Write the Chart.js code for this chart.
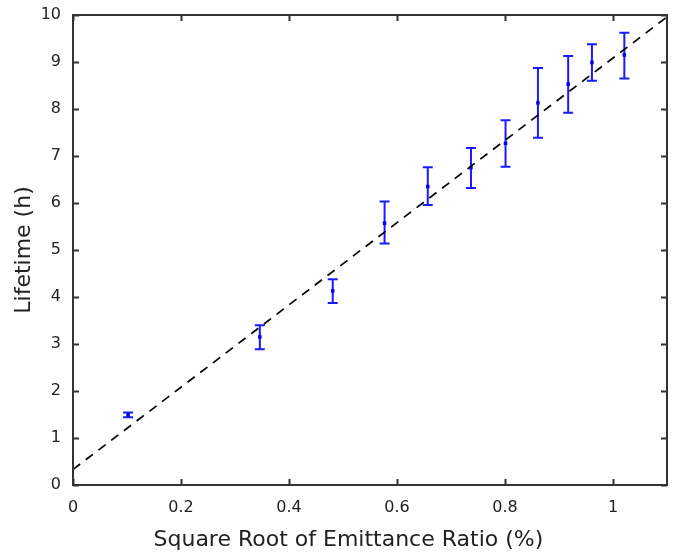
<!DOCTYPE html>
<html>
<head>
<meta charset="utf-8">
<script src="https://cdn.jsdelivr.net/npm/chart.js@4.4.1/dist/chart.umd.min.js"></script>
<style>
  html, body { margin: 0; padding: 0; background: #fff; }
  #wrap { width: 689px; height: 552px; }
</style>
</head>
<body>
<div id="wrap"><canvas id="lifetimeChart" width="689" height="552"></canvas></div>
<script>
const emitRatio = [0.102, 0.346, 0.481, 0.577, 0.657, 0.737, 0.801, 0.861, 0.917, 0.961, 1.021];
const lifetime  = [1.49, 3.15, 4.13, 5.57, 6.35, 6.75, 7.27, 8.13, 8.53, 8.99, 9.15];
const errLow    = [1.44, 2.89, 3.87, 5.14, 5.96, 6.32, 6.77, 7.39, 7.92, 8.60, 8.65];
const errHigh   = [1.54, 3.40, 4.38, 6.03, 6.76, 7.17, 7.76, 8.87, 9.13, 9.38, 9.62];

// linear fit line end points
const fitX = [0, 1.1];
const fitY = [0.33, 9.96];

const xTicks = [0, 0.2, 0.4, 0.6, 0.8, 1];
const yTicks = [0, 1, 2, 3, 4, 5, 6, 7, 8, 9, 10];

const xTitle = 'Square Root of Emittance Ratio (%)';
const yTitle = 'Lifetime (h)';

const axisFont = { family: 'DejaVu Sans', size: 16 };
const titleFont = { family: 'DejaVu Sans', size: 22 };

// error bars (under the markers) + box frame with inward ticks
const framePlugin = {
    id: 'frame',
    beforeDatasetsDraw(chart) {
        const ctx = chart.ctx;
        const xs = chart.scales.x, ys = chart.scales.y;
        ctx.save();
        ctx.strokeStyle = '#1a1aff';
        ctx.lineWidth = 2;
        for (let i = 0; i < emitRatio.length; i++) {
            const px = xs.getPixelForValue(emitRatio[i]);
            const lo = ys.getPixelForValue(errLow[i]);
            const hi = ys.getPixelForValue(errHigh[i]);
            ctx.beginPath();
            ctx.moveTo(px, lo); ctx.lineTo(px, hi);
            ctx.moveTo(px - 5, lo); ctx.lineTo(px + 5, lo);
            ctx.moveTo(px - 5, hi); ctx.lineTo(px + 5, hi);
            ctx.stroke();
        }
        ctx.restore();
    },
    afterDatasetsDraw(chart) {
        const ctx = chart.ctx;
        const xs = chart.scales.x, ys = chart.scales.y;
        const a = chart.chartArea;
        ctx.save();
        ctx.strokeStyle = '#333';
        ctx.lineWidth = 2;
        ctx.strokeRect(a.left, a.top, a.right - a.left, a.bottom - a.top);
        ctx.beginPath();
        xTicks.forEach(v => {
            const px = Math.round(xs.getPixelForValue(v)) + 0.5;
            ctx.moveTo(px, a.bottom); ctx.lineTo(px, a.bottom - 6);
            ctx.moveTo(px, a.top); ctx.lineTo(px, a.top + 6);
        });
        yTicks.forEach(v => {
            const py = Math.round(ys.getPixelForValue(v)) + 0.5;
            ctx.moveTo(a.left, py); ctx.lineTo(a.left + 6, py);
            ctx.moveTo(a.right, py); ctx.lineTo(a.right - 6, py);
        });
        ctx.stroke();

        // x axis title sits a bit left of the plot centre in the original
        ctx.fillStyle = '#222';
        ctx.font = titleFont.size + 'px "' + titleFont.family + '"';
        ctx.textAlign = 'center';
        ctx.textBaseline = 'middle';
        ctx.fillText(xTitle, xs.getPixelForValue(0.51), 540);
        ctx.restore();
    }
};

const ctx = document.getElementById('lifetimeChart').getContext('2d');
const lifetimeChart = new Chart(ctx, {
    type: 'scatter',
    data: {
        datasets: [{
            label: 'Fit',
            type: 'line',
            data: fitX.map((x, i) => ({ x: x, y: fitY[i] })),
            borderColor: '#000',
            borderWidth: 1.7,
            borderDash: [9, 7],
            pointRadius: 0,
            fill: false
        }, {
            label: 'Lifetime',
            data: emitRatio.map((x, i) => ({ x: x, y: lifetime[i] })),
            backgroundColor: '#0000ee',
            borderColor: '#0000ee',
            pointStyle: 'rect',
            pointRadius: 2.5,
            borderWidth: 0
        }]
    },
    options: {
        responsive: false,
        animation: false,
        layout: { padding: { left: 0, right: 22, top: 15, bottom: 0 } },
        plugins: {
            legend: { display: false },
            tooltip: { enabled: false }
        },
        scales: {
            x: {
                type: 'linear',
                min: 0,
                max: 1.1,
                afterBuildTicks: s => { s.ticks = xTicks.map(v => ({ value: v })); },
                afterFit: s => { s.height = 67; s.paddingLeft = 0; s.paddingRight = 0; },
                grid: { display: false, drawTicks: false },
                border: { display: false },
                ticks: {
                    color: '#222',
                    font: axisFont,
                    padding: 13,
                    maxRotation: 0,
                    callback: v => String(v)
                },
                title: { display: false }
            },
            y: {
                type: 'linear',
                min: 0,
                max: 10,
                afterBuildTicks: s => { s.ticks = yTicks.map(v => ({ value: v })); },
                afterFit: s => { s.width = 73; s.paddingTop = 0; s.paddingBottom = 0; },
                grid: { display: false, drawTicks: false },
                border: { display: false },
                ticks: {
                    color: '#222',
                    font: axisFont,
                    padding: 12,
                    callback: v => String(v)
                },
                title: {
                    display: true,
                    text: yTitle,
                    color: '#222',
                    font: titleFont,
                    padding: { top: 11, bottom: 3 }
                }
            }
        }
    },
    plugins: [framePlugin]
});
</script>
</body>
</html>
